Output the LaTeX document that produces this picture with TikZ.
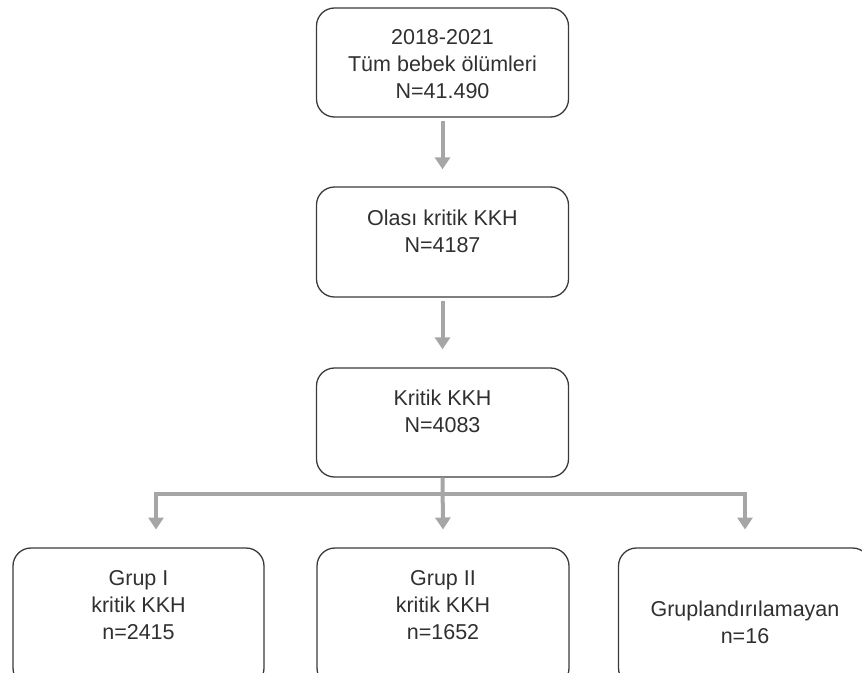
\documentclass[tikz,border=0pt]{standalone}
\usepackage{fontspec}
\setmainfont{Liberation Sans}
\usetikzlibrary{arrows.meta}
\definecolor{boxline}{HTML}{3A3A3A}
\definecolor{txt}{HTML}{303030}
\definecolor{arrgray}{HTML}{A6A6A6}
\tikzset{
  boxnode/.style={draw=boxline, line width=1.3pt, rounded corners=18pt, minimum width=252pt, inner sep=0pt},
  txtnode/.style={align=center, text=txt, font=\fontsize{21.5}{27}\selectfont, inner sep=0pt},
  garrow/.style={draw=arrgray, line width=4pt, -{Triangle[width=15pt,length=12pt]}},
}
\begin{document}
\begin{tikzpicture}[x=1pt,y=-1pt]
\useasboundingbox (0,0) rectangle (862,672);
\clip (0,0) rectangle (862,672);
% boxes
\node[boxnode, minimum height=109pt] (b1) at (442.5,62.5) {};
\node[boxnode, minimum height=110pt] (b2) at (442.5,242) {};
\node[boxnode, minimum height=109pt] (b3) at (442.5,422.5) {};
\node[boxnode, minimum width=251pt, minimum height=138pt] (g1) at (138.5,617) {};
\node[boxnode, minimum height=138pt] (g2) at (443,617) {};
\node[boxnode, minimum height=138pt] (g3) at (744.5,617) {};
% texts
\node[txtnode] (b1t) at (442.5,64) {2018-2021\\Tüm bebek ölümleri\\N=41.490};
\node[txtnode] (b2t) at (442.5,231.5) {Olası kritik KKH\\N=4187};
\node[txtnode] (b3t) at (442.5,411) {Kritik KKH\\N=4083};
\node[txtnode] (g1t) at (138.5,605) {Grup I\\kritik KKH\\n=2415};
\node[txtnode] (g2t) at (443,605) {Grup II\\kritik KKH\\n=1652};
\node[txtnode] (g3t) at (745,622) {Gruplandırılamayan\\n=16};
% connectors
\coordinate (bar) at (443,494);
\coordinate (t1) at (156,529.5);
\coordinate (t2) at (443,529.5);
\coordinate (t3) at (745,529.5);
\draw[garrow] ([yshift=-3pt]b1.south) -- ([yshift=17pt]b2.north);
\draw[garrow] ([yshift=-3pt]b2.south) -- ([yshift=18pt]b3.north);
\draw[garrow] (b3.south) -- (t2);
\draw[garrow] (bar) -| (t1);
\draw[garrow] (bar) -| (t3);
\end{tikzpicture}
\end{document}
